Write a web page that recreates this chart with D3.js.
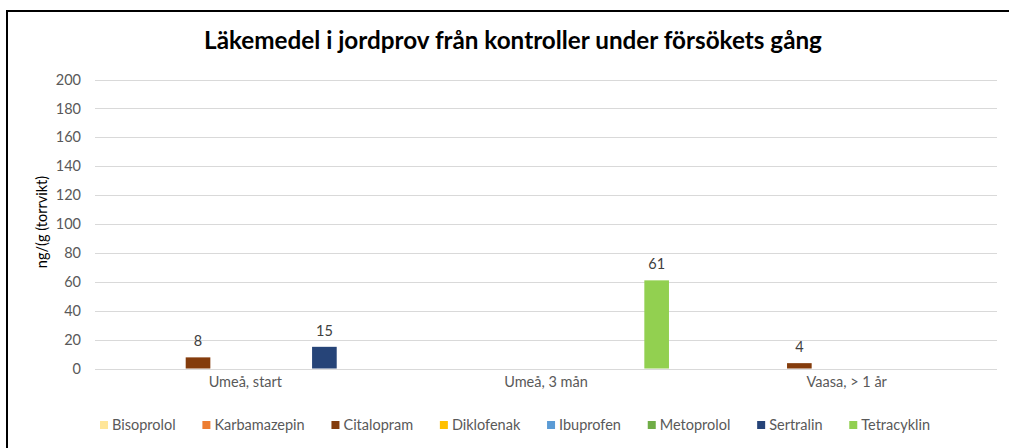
<!DOCTYPE html>
<html><head><meta charset="utf-8">
<script src="https://cdn.jsdelivr.net/npm/d3@7"></script>
<style>
html,body{margin:0;padding:0;background:#fff;overflow:hidden;}
text{font-family:Lato,"Open Sans",sans-serif;}
</style></head>
<body><svg id="c" width="1009" height="448"></svg>
<script>
const title = "Läkemedel i jordprov från kontroller under försökets gång";
const yTitle = "ng/(g (torrvikt)";
const categories = ["Umeå, start", "Umeå, 3 mån", "Vaasa, > 1 år"];
const seriesNames = ["Bisoprolol","Karbamazepin","Citalopram","Diklofenak","Ibuprofen","Metoprolol","Sertralin","Tetracyklin"];
const seriesColors = ["#FFE699","#ED7D31","#843C0C","#FFC000","#5B9BD5","#70AD47","#264478","#92D050"];
const bisoprolol   = [null, null, null];
const karbamazepin = [null, null, null];
const citalopram   = [7.7, null, 3.7];
const diklofenak   = [null, null, null];
const ibuprofen    = [null, null, null];
const metoprolol   = [null, null, null];
const sertralin    = [15, null, null];
const tetracyklin  = [null, 61, null];
const yTicks = [0,20,40,60,80,100,120,140,160,180,200];

const seriesValues = [bisoprolol,karbamazepin,citalopram,diklofenak,ibuprofen,metoprolol,sertralin,tetracyklin];

const svg = d3.select("#c");
const L = 95, R = 997, T = 79.5, B = 368.5;
const FS = "14.5px";

// chart border
svg.append("rect").attr("x",7).attr("y",11).attr("width",1020).attr("height",460)
  .attr("fill","none").attr("stroke","#000").attr("stroke-width",2);

const y = d3.scaleLinear().domain([0,200]).range([B,T]);
const x0 = d3.scaleBand().domain(categories).range([L,R]).padding(0);
const bw = x0.bandwidth();
const x1 = d3.scaleBand().domain(seriesNames).range([bw*0.0915, bw*0.909]).paddingInner(0.22).paddingOuter(0);

// gridlines
svg.append("g").selectAll("line").data(yTicks).join("line")
  .attr("x1",L).attr("x2",R).attr("y1",d=>Math.round(y(d))+0.5).attr("y2",d=>Math.round(y(d))+0.5)
  .attr("stroke","#d9d9d9").attr("stroke-width",1);

// y axis labels
const yAxis = d3.axisLeft(y).tickValues(yTicks).tickSize(0).tickPadding(0);
const gy = svg.append("g").attr("transform",`translate(81,0)`).call(yAxis);
gy.select(".domain").remove();
gy.selectAll("text").attr("fill","#595959").style("font-size",FS).style("font-family","Lato,sans-serif");

// x axis labels
const xAxis = d3.axisBottom(x0).tickSize(0).tickPadding(0);
const gx = svg.append("g").attr("transform",`translate(0,377)`).call(xAxis);
gx.select(".domain").remove();
gx.selectAll("text").attr("fill","#595959").style("font-size",FS).style("font-family","Lato,sans-serif");

// bars
const flat = [];
categories.forEach((c,ci)=>seriesNames.forEach((s,si)=>{
  const v = seriesValues[si][ci];
  if (v !== null && v !== undefined) flat.push({c,s,v,color:seriesColors[si]});
}));
const gb = svg.append("g");
gb.selectAll("rect").data(flat).join("rect")
  .attr("x",d=>x0(d.c)+x1(d.s)).attr("width",x1.bandwidth())
  .attr("y",d=>y(d.v)).attr("height",d=>y(0)-y(d.v)).attr("fill",d=>d.color);
gb.selectAll("text").data(flat).join("text")
  .attr("x",d=>x0(d.c)+x1(d.s)+x1.bandwidth()/2).attr("y",d=>y(d.v)-11)
  .attr("text-anchor","middle").attr("fill","#404040").style("font-size",FS)
  .text(d=>d3.format(".0f")(d.v));

// title
const tt = svg.append("text").attr("x",513).attr("y",49).attr("text-anchor","middle")
  .attr("fill","#000").style("font-weight","bold").style("font-size","20px").text(title);
const tw = tt.node().getComputedTextLength();
tt.style("font-size",(20*618/tw).toFixed(2)+"px");

// y title
svg.append("text").attr("transform","translate(47,222) rotate(-90)").attr("text-anchor","middle")
  .attr("fill","#000").style("font-size",FS).text(yTitle);

// legend
const lg = svg.append("g");
const items = lg.selectAll("g").data(seriesNames).join("g");
items.append("rect").attr("width",8).attr("height",8).attr("y",-9).attr("fill",(d,i)=>seriesColors[i]);
items.append("text").attr("x",12).attr("y",0).attr("fill","#595959").style("font-size",FS).text(d=>d);
let widths = [];
items.each(function(){ widths.push(12 + d3.select(this).select("text").node().getComputedTextLength()); });
const legendSpan = 830;
const gap = (legendSpan - d3.sum(widths)) / (widths.length - 1);
let cx = 100;
items.attr("transform",(d,i)=>{ const t=`translate(${cx},430)`; cx += widths[i]+gap; return t; });
</script></body></html>
